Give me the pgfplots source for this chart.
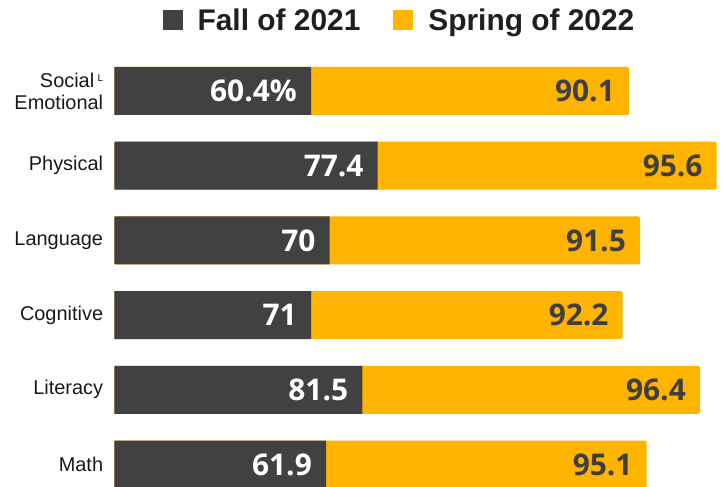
\documentclass[border=0pt]{standalone}
\usepackage{pgfplots}
\pgfplotsset{compat=1.18}
\usepackage{fontspec}
\setmainfont{Liberation Sans}
\newfontfamily\valfont{Open Sans}
\definecolor{fallgray}{HTML}{414141}
\definecolor{springorange}{HTML}{FFB400}
\definecolor{labelgray}{HTML}{3F3F3F}

\begin{document}
\begin{tikzpicture}
\useasboundingbox (0,0) rectangle (723bp,487bp);
\begin{axis}[
    at={(114.3bp,0bp)}, anchor=south west,
    scale only axis, width=608.7bp, height=487bp,
    xmin=0, xmax=608.7,
    ymin=-1.218, ymax=5.301, y dir=reverse,
    xbar, bar width=48bp, bar shift=0pt,
    axis line style={draw=none},
    major tick length=0pt,
    xtick=\empty,
    ytick={0,1,2,3,4,5},
    yticklabels={{Social\,\raisebox{0.55ex}{\fontsize{10}{10}\selectfont L}\\Emotional},Physical,Language,Cognitive,Literacy,Math},
    yticklabel style={align=right, font=\fontsize{20}{22}\selectfont, text=black!90, inner sep=0pt, xshift=-11bp},
    clip=false,
    point meta=explicit symbolic,
    nodes near coords,
    every node near coord/.append style={anchor=east, xshift=-14bp,
        font=\valfont\bfseries\fontsize{30}{30}\selectfont, text depth=0pt, inner sep=0pt},
    legend image code/.code={\fill[#1] (0bp,-10bp) rectangle (20bp,10bp);},
    legend style={draw=none, fill=none, at={(rel axis cs:0.4685,0.959)}, anchor=center,
        legend columns=2, font=\fontsize{30}{30}\selectfont\bfseries, text=black!88,
        /tikz/every odd column/.append style={column sep=13bp},
        /tikz/every even column/.append style={column sep=31bp}},
]
% bar ends as drawn (length from the left edge of the bars)
\addplot[forget plot, fill=springorange, draw=none, rounded corners=2bp,
    every node near coord/.append style={text=labelgray}]
    coordinates {
    (514.7,0) [90.1]
    (602.4,1) [95.6]
    (525.7,2) [91.5]
    (508.4,3) [92.2]
    (585.7,4) [96.4]
    (532.4,5) [95.1]
    };
\addplot[forget plot, fill=fallgray, draw=none,
    every node near coord/.append style={text=white}]
    coordinates {
    (196.7,0) [60.4\%]
    (263.4,1) [77.4]
    (215.4,2) [70]
    (196.7,3) [71]
    (248.0,4) [81.5]
    (211.7,5) [61.9]
    };
\addlegendimage{fill=fallgray, draw=none}
\addlegendentry{Fall of 2021}
\addlegendimage{fill=springorange, draw=none}
\addlegendentry{Spring of 2022}
\end{axis}
\end{tikzpicture}
\end{document}
